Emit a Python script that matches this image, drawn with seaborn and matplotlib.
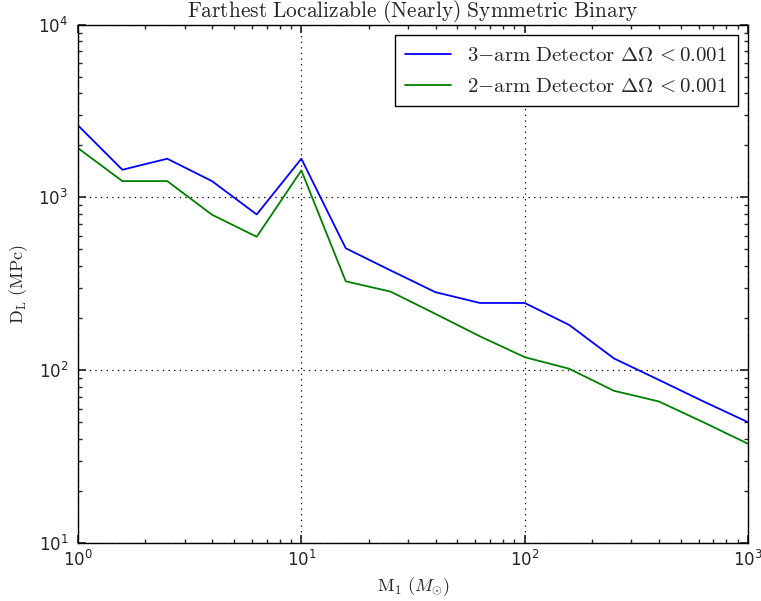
"""
Farthest localizable (nearly) symmetric binary: luminosity distance vs primary mass
"""
import pandas as pd
import seaborn as sns
import matplotlib.pyplot as plt

# values
masses = [1, 1.58, 2.51, 3.98, 6.31, 10, 15.8, 25.1, 39.8, 63.1, 100, 158, 251, 398, 631, 1000]
dist_3arm = [2612, 1446, 1675, 1243, 797, 1675, 508, 378, 283, 245, 245, 183, 117, 88, 66, 50]
dist_2arm = [1929, 1243, 1243, 794, 592, 1433, 327, 285, 212, 157, 119, 102, 76, 66, 50, 37.5]

label_3 = r"$\mathrm{3{-}arm\ Detector}\ \Delta\Omega\,{<}0.001$"
label_2 = r"$\mathrm{2{-}arm\ Detector}\ \Delta\Omega\,{<}0.001$"

df = pd.concat([
    pd.DataFrame({'mass': masses, 'dist': dist_3arm, 'detector': label_3}),
    pd.DataFrame({'mass': masses, 'dist': dist_2arm, 'detector': label_2}),
])

sns.set_theme(style="ticks", rc={
    'xtick.direction': 'in', 'ytick.direction': 'in',
    'xtick.top': True, 'ytick.right': True,
    'xtick.major.size': 6, 'ytick.major.size': 6,
    'xtick.minor.size': 3, 'ytick.minor.size': 3,
    'xtick.major.pad': 5, 'ytick.major.pad': 7,
    'axes.edgecolor': 'black', 'axes.linewidth': 1.0,
    'xtick.labelsize': 12, 'ytick.labelsize': 12,
    'mathtext.fontset': 'dejavusans',
})

fig = plt.figure(figsize=(7.61, 6.01), dpi=100)
ax = fig.add_axes([0.1025, 0.0965, 0.8805, 0.8625])

sns.lineplot(data=df, x='mass', y='dist', hue='detector', ax=ax,
             palette={label_3: 'blue', label_2: 'green'},
             estimator=None, sort=False, linewidth=1.3)

ax.set_xscale('log')
ax.set_yscale('log')
ax.set_xlim(1, 1000)
ax.set_ylim(10, 1e4)
ax.grid(True, which='major', linestyle=(0, (1, 3.5)), color='black', linewidth=0.9)

ax.set_title(r"$\mathrm{Farthest\ Localizable\ (Nearly)\ Symmetric\ Binary}$",
             fontsize=15.4, math_fontfamily='cm', pad=4)
ax.set_xlabel(r"$\mathrm{M_1\ (}M_{\odot}\mathrm{)}$", fontsize=13, math_fontfamily='cm',
              labelpad=4)
ax.set_ylabel(r"$\mathrm{D_L\ (MPc)}$", fontsize=13, math_fontfamily='cm', labelpad=6)

handles, labels = ax.get_legend_handles_labels()
leg = ax.legend(handles, labels, loc='upper right', fancybox=False, edgecolor='black',
                framealpha=1, fontsize=15, handlelength=2.2, borderpad=0.5)
leg.get_frame().set_linewidth(1.0)
for t in leg.get_texts():
    t.set_math_fontfamily('cm')

fig.savefig('out.png', dpi=100)
